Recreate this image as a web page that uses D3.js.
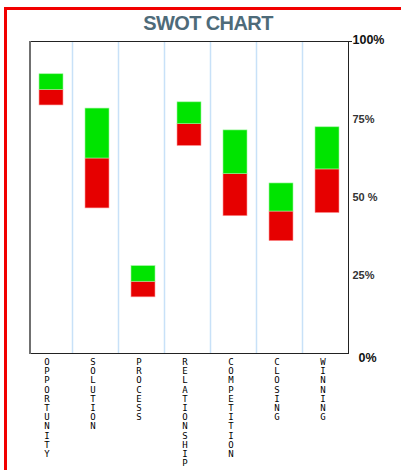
<!DOCTYPE html>
<html>
<head>
<meta charset="utf-8">
<script src="https://cdn.jsdelivr.net/npm/d3@7"></script>
<style>
  html, body { margin: 0; padding: 0; background: #fff; }
  svg { display: block; }
</style>
</head>
<body>
<script>
// ---- data ----
const categories = ["OPPORTUNITY", "SOLUTION", "PROCESS", "RELATIONSHIP", "COMPETITION", "CLOSING", "WINNING"];
const lowValues  = [79.5, 46.5, 18.0, 66.5, 44.0, 36.0, 45.0];   // bottom of red segment
const midValues  = [84.5, 62.5, 23.0, 73.5, 57.5, 45.5, 59.0];   // red / green boundary
const highValues = [89.5, 78.5, 28.0, 80.5, 71.5, 54.5, 72.5];   // top of green segment
const yTickValues = [0, 25, 50, 75, 100];
const yTickLabels = ["0%", "25%", "50 %", "75%", "100%"];
const titleText = "SWOT CHART";

// ---- layout ----
const W = 401, H = 470;
const plot = { left: 30, right: 348, top: 41, bottom: 353 };

const svg = d3.select("body").append("svg").attr("width", W).attr("height", H);

svg.append("rect").attr("width", W).attr("height", H).attr("fill", "#fff");

// red outer frame (clipped by the window on right and bottom)
svg.append("rect")
  .attr("x", 5.5).attr("y", 8.5)
  .attr("width", W + 20).attr("height", H + 20)
  .attr("fill", "none").attr("stroke", "#f20000").attr("stroke-width", 3);

// title
svg.append("text")
  .attr("x", 208).attr("y", 30)
  .attr("text-anchor", "middle")
  .attr("font-family", "'Liberation Sans', Arial, sans-serif")
  .attr("font-weight", "bold").attr("font-size", 20)
  .attr("letter-spacing", -0.6)
  .attr("fill", "#4e6b79")
  .text(titleText);

// scales
const x = d3.scaleBand().domain(categories).range([plot.left - 2, plot.right + 2]);
const y = d3.scaleLinear().domain([0, 100]).range([plot.bottom, plot.top]);

// vertical separators
svg.append("g").selectAll("line")
  .data(categories.slice(1))
  .join("line")
  .attr("x1", d => x(d) - 1.5).attr("x2", d => x(d) - 1.5)
  .attr("y1", plot.top).attr("y2", plot.bottom)
  .attr("stroke", "#c8e1f8").attr("stroke-width", 1.5);

// bars
const barW = 24;
const rows = categories.map((c, i) => ({ c, low: lowValues[i], mid: midValues[i], high: highValues[i] }));
const bars = svg.append("g");
bars.selectAll("rect.red")
  .data(rows).join("rect").attr("class", "red")
  .attr("x", d => x(d.c) + x.bandwidth() / 2 - barW / 2)
  .attr("width", barW)
  .attr("y", d => y(d.mid))
  .attr("height", d => y(d.low) - y(d.mid))
  .attr("fill", "#e60000")
  .attr("stroke", "#ff9a9a").attr("stroke-width", 0.6);
bars.selectAll("rect.green")
  .data(rows).join("rect").attr("class", "green")
  .attr("x", d => x(d.c) + x.bandwidth() / 2 - barW / 2)
  .attr("width", barW)
  .attr("y", d => y(d.high))
  .attr("height", d => y(d.mid) - y(d.high))
  .attr("fill", "#00e400")
  .attr("stroke", "#9af59a").attr("stroke-width", 0.6);

// plot frame
svg.append("rect")
  .attr("x", plot.left + 0.5).attr("y", plot.top + 0.5)
  .attr("width", plot.right - plot.left).attr("height", plot.bottom - plot.top)
  .attr("fill", "none").attr("stroke", "#222").attr("stroke-width", 1);
svg.append("line")
  .attr("x1", plot.left).attr("x2", plot.left)
  .attr("y1", plot.top).attr("y2", plot.bottom + 1)
  .attr("stroke", "#707070").attr("stroke-width", 2);
svg.append("line")
  .attr("x1", plot.right + 0.5).attr("x2", plot.right + 4)
  .attr("y1", plot.top + 0.5).attr("y2", plot.top + 0.5)
  .attr("stroke", "#222").attr("stroke-width", 1);

// right axis labels
const axis = d3.axisRight(y)
  .tickValues(yTickValues)
  .tickFormat(d => yTickLabels[yTickValues.indexOf(d)])
  .tickSize(0).tickPadding(4);
const ag = svg.append("g").attr("transform", `translate(${plot.right + 0.5},0)`).call(axis);
ag.select(".domain").remove();
ag.selectAll("text")
  .attr("font-family", "'Liberation Sans', Arial, sans-serif")
  .attr("font-weight", "bold")
  .attr("font-size", d => (d === 0 || d === 100) ? 12.5 : 11)
  .attr("fill", d => (d === 0 || d === 100) ? "#111" : "#333")
  .attr("dx", d => d === 0 ? 6 : 0)
  .attr("dy", d => d === 0 ? "0.65em" : (d === 100 ? "0.2em" : "0.32em"));

// vertical stacked category labels
const catG = svg.append("g")
  .attr("font-family", "'DejaVu Sans Mono', monospace")
  .attr("font-size", 9)
  .attr("fill", "#000")
  .attr("text-anchor", "middle");
catG.selectAll("text")
  .data(categories)
  .join("text")
  .each(function (c) {
    const t = d3.select(this);
    const cx = x(c) + x.bandwidth() / 2 - 4;
    c.split("").forEach((ch, k) => {
      t.append("tspan")
        .attr("x", cx)
        .attr("y", 365 + k * 9.2)
        .text(ch);
    });
  });
</script>
</body>
</html>
